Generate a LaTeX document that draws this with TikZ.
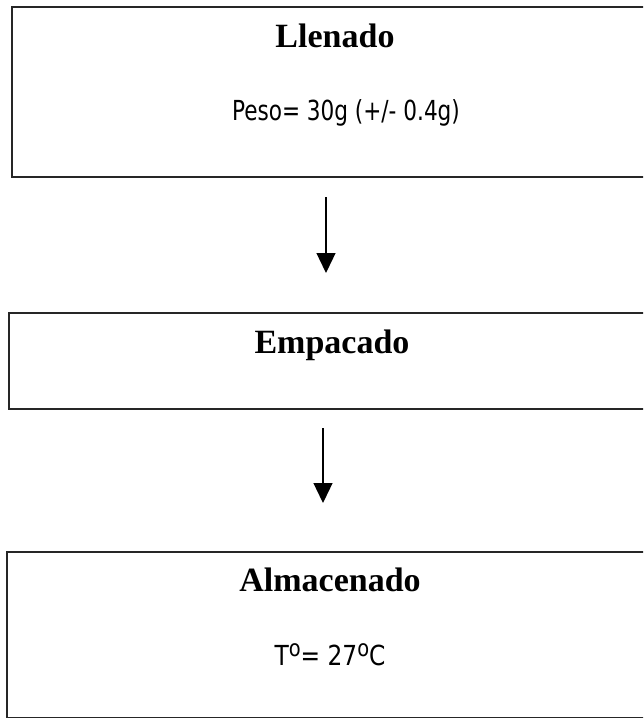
\documentclass[tikz,border=0pt]{standalone}
\usepackage{fontspec}
\setmainfont{Liberation Serif}
\newfontfamily\sinserif{DejaVu Sans Condensed}
\usetikzlibrary{arrows.meta}

\tikzset{
  caja/.style={draw=black!85, line width=1.8pt, rectangle, anchor=north west, inner sep=0pt, minimum width=650pt},
  titulo/.style={font=\fontsize{34}{40}\selectfont\bfseries, anchor=base, inner sep=0pt},
  dato/.style={font=\sinserif\fontsize{24}{28}\selectfont, anchor=base, inner sep=0pt},
  flecha/.style={line width=1.3pt, -{Triangle[length=20pt,width=19pt]}}
}
\newcommand{\grado}{\raisebox{7pt}{\fontsize{20}{20}\selectfont o}}
\newcommand{\alto}[2][1]{\scalebox{#1}[1.15]{#2}}

\begin{document}
\begin{tikzpicture}[x=1pt, y=-1pt]
    \useasboundingbox (0,0) rectangle (643,718);
    \clip (0,0) rectangle (643,718);

    % cajas
    \node[caja, minimum height=170pt] (llenado) at (11,6) {};
    \node[caja, minimum height=96pt] (empacado) at (8,312) {};
    \node[caja, minimum height=166pt] (almacenado) at (6,551) {};

    % textos
    \node[titulo] (t1) at (335,47) {Llenado};
    \node[dato] (d1) at (346,120) {\alto{Peso= 30g (+/- 0.4g)}};
    \node[titulo] (t2) at (332,353) {Empacado};
    \node[titulo] (t3) at (330,591) {Almacenado};
    \node[dato] (d3) at (330,665) {\alto[1.08]{T\grado= 27\grado C}};

    % flechas
    \coordinate (f1a) at (326,197);
    \coordinate (f1b) at (326,273);
    \coordinate (f2a) at (323,428);
    \coordinate (f2b) at (323,503);
    \draw[flecha] (f1a) -- (f1b);
    \draw[flecha] (f2a) -- (f2b);
\end{tikzpicture}
\end{document}
